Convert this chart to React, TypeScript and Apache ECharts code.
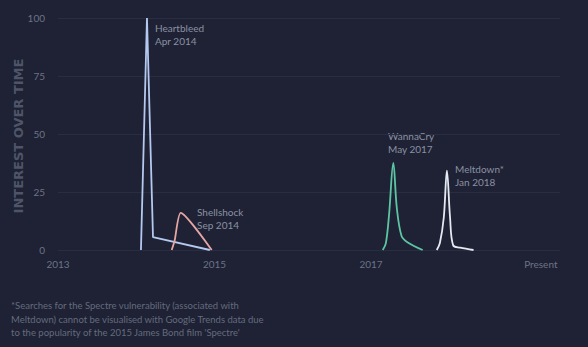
import React, { useEffect, useRef } from "react";
import * as echarts from "echarts";

const yTicks = [0, 25, 50, 75, 100];
const xTickValues = [2013, 2015, 2017, 2019.17];
const xTickLabels = ["2013", "2015", "2017", "Present"];

const heartbleedX = [2014.06, 2014.137, 2014.214, 2014.94];
const heartbleedY = [0, 100, 5.5, 0];

const shellshockX = [2014.453, 2014.49, 2014.568, 2014.964];
const shellshockY = [0, 4, 16, 0];

const wannacryX = [2017.15, 2017.19, 2017.23, 2017.285, 2017.33, 2017.39, 2017.46, 2017.66];
const wannacryY = [0, 3, 15, 37.5, 18, 6, 3.5, 0];

const meltdownX = [2017.84, 2017.88, 2017.93, 2017.97, 2018.01, 2018.05, 2018.14, 2018.31];
const meltdownY = [0, 3, 14, 34.2, 14, 2, 1, 0];

const annotations = [
  { lines: ["Heartbleed", "Apr 2014"], x: 155, y: 21 },
  { lines: ["Shellshock", "Sep 2014"], x: 197, y: 205 },
  { lines: ["WannaCry", "May 2017"], x: 388, y: 129 },
  { lines: ["Meltdown*", "Jan 2018"], x: 455, y: 162 },
];

const footnote = [
  "*Searches for the Spectre vulnerability (associated with",
  "Meltdown) cannot be visualised with Google Trends data due",
  "to the popularity of the 2015 James Bond film 'Spectre'",
];

const zip = (xs: number[], ys: number[]) => xs.map((x, i) => [x, ys[i]]);

export default function App() {
  const ref = useRef<HTMLDivElement>(null);
  useEffect(() => {
    if (!ref.current) return;
    const chart = echarts.init(ref.current, null, { renderer: "svg" });
    const font = "Lato, 'Noto Sans', sans-serif";
    const lineSeries = (name: string, data: number[][], color: string, smooth: number | boolean) => ({
      name,
      type: "line",
      data,
      smooth,
      showSymbol: false,
      symbol: "none",
      lineStyle: { color, width: 1.8 },
    });
    chart.setOption({
      animation: false,
      backgroundColor: "#1e2234",
      grid: { left: 58, right: 28, top: 18, bottom: 97 },
      xAxis: {
        type: "value",
        min: 2013,
        max: 2019.415,
        axisLine: { show: false },
        axisTick: { show: false },
        splitLine: { show: false },
        axisLabel: {
          customValues: xTickValues,
          color: "#6d7387",
          fontSize: 10,
          fontFamily: font,
          margin: 9,
          formatter: (v: number) => {
            const i = xTickValues.findIndex((t) => Math.abs(t - v) < 0.01);
            return i >= 0 ? xTickLabels[i] : "";
          },
        },
      },
      yAxis: {
        type: "value",
        min: 0,
        max: 100,
        interval: 25,
        axisLine: { show: false },
        axisTick: { show: false },
        splitLine: { lineStyle: { color: "#282d42", width: 1 } },
        axisLabel: { color: "#6d7387", fontSize: 10, fontFamily: font, margin: 13 },
      },
      series: [
        lineSeries("Heartbleed", zip(heartbleedX, heartbleedY), "#b4c8f0", false),
        lineSeries("Shellshock", zip(shellshockX, shellshockY), "#e6a6a4", 0.2),
        lineSeries("WannaCry", zip(wannacryX, wannacryY), "#5cc6a4", 0.35),
        lineSeries("Meltdown", zip(meltdownX, meltdownY), "#e4eaf3", 0.35),
      ],
      graphic: [
        {
          type: "text",
          x: 18,
          y: 136,
          rotation: Math.PI / 2,
          style: {
            text: "INTEREST OVER TIME",
            fill: "#4f5568",
            font: "bold 13px 'DejaVu Sans', sans-serif",
            align: "center",
            verticalAlign: "middle",
          },
        },
        ...annotations.map((a) => ({
          type: "text",
          x: a.x,
          y: a.y,
          style: {
            text: a.lines.join("\n"),
            fill: "#8b91a3",
            font: `10px ${font}`,
            lineHeight: 13.5,
          },
        })),
        {
          type: "text",
          x: 11,
          y: 299,
          style: {
            text: footnote.join("\n"),
            fill: "#656b7e",
            font: `9.5px ${font}`,
            lineHeight: 13.5,
          },
        },
      ],
    });
    return () => chart.dispose();
  }, []);
  return <div ref={ref} style={{ width: 588, height: 347, position: "absolute", left: 0, top: 0 }} />;
}
